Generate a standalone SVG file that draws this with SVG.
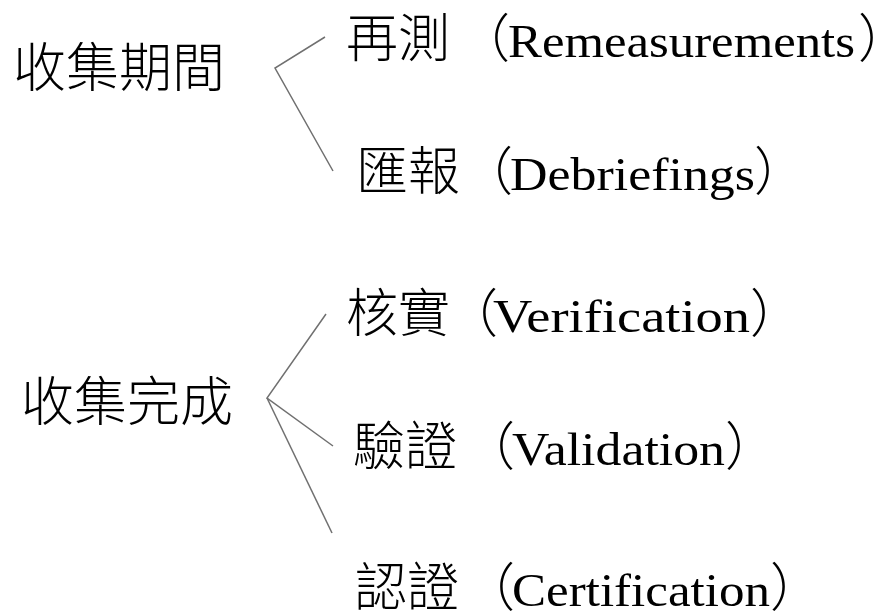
<svg xmlns="http://www.w3.org/2000/svg" width="881" height="613" viewBox="0 0 881 613">
<style>
.cjk{font-family:"Noto Sans CJK TC","Noto Sans CJK SC",sans-serif;font-weight:300;fill:#000}
.big{font-size:53px}
.mid{font-size:52px}
.close{font-feature-settings:"halt"}
.lat{font-family:"Liberation Serif","DejaVu Serif",serif;font-size:47px;fill:#000}
.conn{fill:none;stroke:#707070;stroke-width:1.5}
</style>
<rect width="881" height="613" fill="#fff"/>
<g id="connectors">
<polyline class="conn" points="325,37 275,68 333,171"/>
<polyline class="conn" points="326,314 267,398 333,446"/>
<line class="conn" x1="267" y1="398" x2="332" y2="533"/>
</g>
<g id="n-collect-period"><text class="cjk big" x="13" y="87">收集期間</text></g>
<g id="n-collect-done"><text class="cjk big" x="21" y="421">收集完成</text></g>
<g id="n-remeasure">
<text class="cjk mid" x="346" y="57">再測</text>
<text class="cjk mid" x="458" y="57">（</text>
<text class="lat" x="508" y="57" textLength="347" lengthAdjust="spacingAndGlyphs">Remeasurements</text>
<text class="cjk mid close" x="858" y="57">）</text>
</g>
<g id="n-debrief">
<text class="cjk mid" x="356" y="190">匯報</text>
<text class="cjk mid" x="461" y="190">（</text>
<text class="lat" x="510" y="190" textLength="245" lengthAdjust="spacingAndGlyphs">Debriefings</text>
<text class="cjk mid close" x="754" y="190">）</text>
</g>
<g id="n-verify">
<text class="cjk mid" x="346" y="332">核實</text>
<text class="cjk mid" x="446" y="332">（</text>
<text class="lat" x="493" y="332" textLength="257" lengthAdjust="spacingAndGlyphs">Verification</text>
<text class="cjk mid close" x="750" y="332">）</text>
</g>
<g id="n-validate">
<text class="cjk mid" x="353" y="465">驗證</text>
<text class="cjk mid" x="463" y="465">（</text>
<text class="lat" x="512" y="465" textLength="213" lengthAdjust="spacingAndGlyphs">Validation</text>
<text class="cjk mid close" x="725" y="465">）</text>
</g>
<g id="n-certify">
<text class="cjk mid" x="355" y="606">認證</text>
<text class="cjk mid" x="463" y="606">（</text>
<text class="lat" x="512" y="606" textLength="258" lengthAdjust="spacingAndGlyphs">Certification</text>
<text class="cjk mid close" x="770" y="606">）</text>
</g>
</svg>
